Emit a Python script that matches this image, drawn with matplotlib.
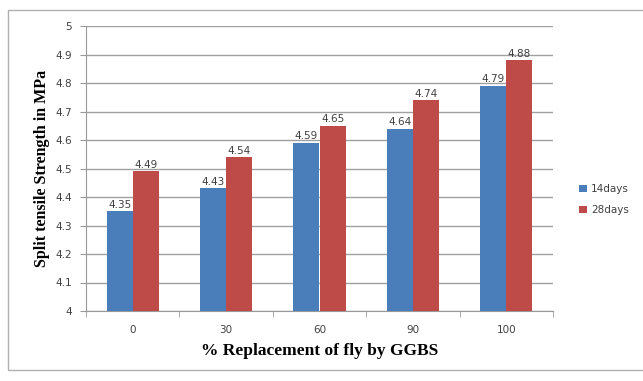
import numpy as np
import matplotlib.pyplot as plt
from matplotlib.patches import Rectangle

# Split tensile strength (MPa) vs % replacement of fly ash by GGBS
replacement = ["0", "30", "60", "90", "100"]
days14 = [4.35, 4.43, 4.59, 4.64, 4.79]
days28 = [4.49, 4.54, 4.65, 4.74, 4.88]

blue = "#4a7ebb"
red = "#be4b48"

fig = plt.figure(figsize=(6.43, 3.81), dpi=100)
fig.patch.set_facecolor("white")

# outer chart border
fig.patches.append(Rectangle((8 / 643, 1 - 370 / 381), 640 / 643, 360 / 381,
                             transform=fig.transFigure, fill=False,
                             edgecolor="#b0b0b0", linewidth=1.0))

ax = fig.add_axes([86 / 643, 1 - 311 / 381, 467 / 643, 285 / 381])

x = np.arange(len(replacement))
w = 0.28
b1 = ax.bar(x - w / 2, np.array(days14) - 4, w, bottom=4, color=blue, label="14days", zorder=3)
b2 = ax.bar(x + w / 2, np.array(days28) - 4, w, bottom=4, color=red, label="28days", zorder=3)

for xi, v in zip(x, days14):
    ax.text(xi - w / 2, v + 0.005, f"{v:.2f}", ha="center", va="bottom",
            fontsize=7.5, color="#404040", zorder=4)
for xi, v in zip(x, days28):
    ax.text(xi + w / 2, v + 0.005, f"{v:.2f}", ha="center", va="bottom",
            fontsize=7.5, color="#404040", zorder=4)

ax.set_xlim(-0.5, len(replacement) - 0.5)
ax.set_ylim(4, 5)
ax.set_yticks(np.arange(4, 5.01, 0.1))
ax.set_yticklabels(["4", "4.1", "4.2", "4.3", "4.4", "4.5", "4.6", "4.7", "4.8", "4.9", "5"])
ax.set_xticks(x)
ax.set_xticklabels(replacement)
ax.set_xticks(np.arange(-0.5, len(replacement), 1.0), minor=True)
ax.tick_params(axis="x", which="major", length=0, pad=10, labelsize=7.5, labelcolor="#404040")
ax.tick_params(axis="x", which="minor", length=4, color="#999999", direction="out")
ax.tick_params(axis="y", length=4, color="#999999", direction="out", labelsize=7.5,
               labelcolor="#404040", pad=6)
ax.yaxis.grid(True, color="#a0a0a0", linewidth=1.0, zorder=0)
ax.set_axisbelow(True)
for side in ["top", "right"]:
    ax.spines[side].set_visible(False)
for side in ["left", "bottom"]:
    ax.spines[side].set_color("#999999")

ax.set_xlabel("% Replacement of fly by GGBS", family="Liberation Serif",
              fontweight="bold", fontsize=12.5, labelpad=6)
ax.set_ylabel("Split tensile Strength in MPa", family="Liberation Serif",
              fontweight="bold", fontsize=11.5, labelpad=4)

leg = fig.legend(handles=[b1, b2], loc="upper left", bbox_to_anchor=(570 / 643, 1 - 175 / 381),
                 frameon=False, fontsize=7.5, handlelength=0.7, handleheight=0.7,
                 handletextpad=0.4, labelspacing=1.0)
for t in leg.get_texts():
    t.set_color("#404040")

fig.savefig("out.png", dpi=100)
